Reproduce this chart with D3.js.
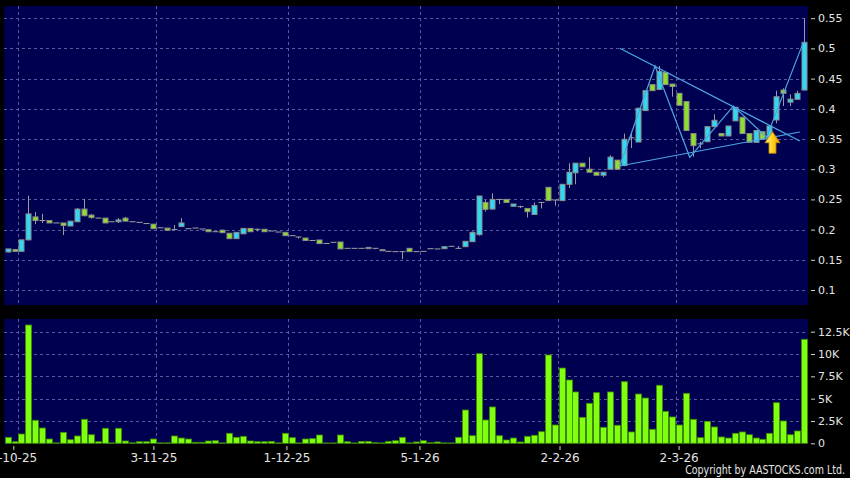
<!DOCTYPE html>
<html><head><meta charset="utf-8">
<script src="https://cdn.jsdelivr.net/npm/d3@7"></script>
<style>html,body{margin:0;padding:0;background:#000;}svg{display:block}</style>
</head><body><svg id="c" width="850" height="478"></svg>
<script>
// ---- data ----
const opens  = [0.163,0.167,0.164,0.183,0.221,0.215,0.215,0.211,0.211,0.206,0.213,0.234,0.224,0.219,0.219,0.213,0.213,0.219,0.213,0.212,0.210,0.209,0.203,0.2025,0.200,0.205,0.2015,0.2026,0.201,0.1998,0.1965,0.199,0.194,0.185,0.193,0.202,0.2005,0.2005,0.1977,0.196,0.1955,0.190,0.1878,0.186,0.182,0.1828,0.177,0.179,0.1795,0.169,0.169,0.169,0.1685,0.169,0.1667,0.164,0.1635,0.1635,0.169,0.1635,0.164,0.1684,0.168,0.1684,0.1723,0.169,0.1717,0.180,0.1916,0.245,0.234,0.250,0.250,0.2386,0.238,0.235,0.225,0.245,0.270,0.249,0.248,0.275,0.294,0.31,0.30,0.295,0.29,0.30,0.315,0.306,0.352,0.345,0.397,0.44,0.432,0.46,0.441,0.4256,0.412,0.359,0.342,0.3455,0.3705,0.359,0.355,0.380,0.386,0.359,0.3445,0.362,0.352,0.3815,0.431,0.411,0.4157,0.431];
const highs  = [0.168,0.168,0.183,0.256,0.229,0.226,0.215,0.211,0.211,0.214,0.236,0.251,0.226,0.219,0.219,0.213,0.219,0.221,0.213,0.212,0.210,0.209,0.203,0.2025,0.2076,0.219,0.2015,0.2026,0.201,0.1998,0.1965,0.200,0.194,0.1955,0.202,0.202,0.202,0.2005,0.1977,0.196,0.1955,0.190,0.1878,0.186,0.182,0.1828,0.177,0.179,0.1795,0.169,0.169,0.169,0.1705,0.169,0.1667,0.164,0.1635,0.1635,0.169,0.1635,0.164,0.1684,0.168,0.1717,0.1723,0.1728,0.1806,0.197,0.2556,0.249,0.26,0.250,0.250,0.2424,0.2395,0.235,0.245,0.245,0.270,0.249,0.275,0.31,0.31,0.31,0.32,0.295,0.295,0.323,0.315,0.359,0.36,0.401,0.43,0.44,0.471,0.46,0.441,0.4256,0.412,0.359,0.3455,0.3705,0.391,0.359,0.3715,0.4025,0.386,0.359,0.364,0.362,0.3715,0.43,0.434,0.424,0.43,0.55];
const lows   = [0.162,0.164,0.164,0.182,0.209,0.211,0.211,0.211,0.191,0.206,0.213,0.222,0.218,0.219,0.211,0.213,0.211,0.214,0.213,0.212,0.210,0.2015,0.203,0.199,0.200,0.205,0.2015,0.2026,0.201,0.1965,0.1965,0.194,0.185,0.185,0.193,0.1965,0.197,0.1965,0.1977,0.196,0.190,0.190,0.185,0.182,0.182,0.1768,0.177,0.179,0.168,0.169,0.169,0.169,0.1685,0.1675,0.165,0.164,0.1635,0.151,0.1635,0.1635,0.164,0.1684,0.168,0.1684,0.1723,0.169,0.1717,0.180,0.19,0.2297,0.233,0.242,0.245,0.2386,0.2357,0.22,0.225,0.235,0.248,0.2397,0.248,0.269,0.275,0.304,0.295,0.29,0.287,0.30,0.30,0.305,0.335,0.345,0.397,0.43,0.432,0.44,0.42,0.4058,0.364,0.3207,0.3346,0.3455,0.3705,0.355,0.355,0.380,0.359,0.3445,0.3445,0.3495,0.348,0.376,0.4046,0.4046,0.4157,0.431];
const closes = [0.168,0.164,0.183,0.226,0.215,0.215,0.211,0.211,0.207,0.214,0.234,0.223,0.220,0.219,0.211,0.213,0.216,0.214,0.213,0.212,0.210,0.2015,0.203,0.199,0.200,0.211,0.2015,0.2026,0.201,0.1965,0.1965,0.195,0.185,0.1955,0.202,0.1965,0.2005,0.1965,0.1977,0.196,0.190,0.190,0.1878,0.182,0.182,0.1768,0.177,0.179,0.168,0.169,0.169,0.169,0.1705,0.169,0.165,0.164,0.1635,0.1635,0.1635,0.1635,0.164,0.1684,0.168,0.1717,0.1723,0.169,0.1806,0.1955,0.2556,0.2336,0.250,0.250,0.245,0.2424,0.238,0.2297,0.240,0.245,0.248,0.249,0.275,0.295,0.31,0.304,0.295,0.29,0.295,0.32,0.30,0.3495,0.352,0.401,0.43,0.43,0.462,0.44,0.437,0.4058,0.364,0.339,0.342,0.3705,0.381,0.355,0.3715,0.4025,0.359,0.3445,0.364,0.3495,0.3715,0.42,0.4257,0.416,0.4256,0.51];
// volume in thousands of shares
const volumes = [0.67,0.18,1.04,13.25,2.58,1.71,0.48,0.05,1.23,0.40,0.82,2.69,0.96,0.18,1.68,0.05,1.68,0.26,0.06,0.18,0.18,0.48,0.05,0.05,0.82,0.59,0.48,0.11,0.11,0.26,0.29,0.05,1.12,0.67,0.78,0.26,0.18,0.18,0.22,0.05,1.12,0.63,0.05,0.48,0.52,0.93,0.04,0.04,0.93,0.18,0.04,0.22,0.22,0.07,0.04,0.22,0.29,0.67,0.05,0.15,0.29,0.07,0.15,0.05,0.04,0.67,3.73,0.85,10.04,2.61,4.07,0.85,0.37,0.59,0.15,0.78,0.90,1.30,9.89,2.05,8.43,7.09,5.75,2.91,4.48,5.67,1.79,5.75,2.02,6.90,1.27,5.52,5.07,1.57,6.50,3.58,2.95,2.05,5.60,2.69,0.63,2.46,1.83,0.71,0.59,1.12,1.27,0.96,0.59,0.45,1.12,4.55,2.50,0.96,1.38,11.65];
const monthStartIdx = [2,22,41,60,80,97];
const monthLabels = ["2-10-25","3-11-25","1-12-25","5-1-26","2-2-26","2-3-26"];
const priceTicks = [0.1,0.15,0.2,0.25,0.3,0.35,0.4,0.45,0.5,0.55];
const priceTickLabels = ["0.1","0.15","0.2","0.25","0.3","0.35","0.4","0.45","0.5","0.55"];
const volTicks = [0,2.5,5,7.5,10,12.5];
const volTickLabels = ["0","2.5K","5K","7.5K","10K","12.5K"];
// drawn annotations (index, price)
const upperTrend = [[88.4,0.5002],[114.4,0.3467]];
const lowerTrend = [[88.4,0.3053],[114.4,0.3616]];
const zigzag = [[88.4,0.3053],[93.5,0.4709],[98.5,0.3197],[104.8,0.4046],[109.6,0.3528],[114.9,0.510]];
const arrowAt = [110.45,0.362];

// ---- layout ----
const svg = d3.select("#c");
const W = 850, H = 478;
const main = {x0:4, x1:808, y0:6, y1:305};
const volP = {x0:4, x1:808, y0:319, y1:444};
const N = closes.length;
const x = d3.scaleLinear().domain([0, N-1]).range([7.6, 804]);
// date-label axis of the source runs on a marginally wider step than the candles
const xLab = d3.scaleLinear().domain([1.5, 96.5]).range([13.3, 678.6]);
const y = d3.scaleLinear().domain([0.1, 0.55]).range([290, 18.2]);
const yv = d3.scaleLinear().domain([0, 12.5]).range([443.3, 331.7]);

svg.append("rect").attr("width",W).attr("height",H).attr("fill","#000");
svg.append("rect").attr("x",main.x0).attr("y",main.y0).attr("width",main.x1-main.x0).attr("height",main.y1-main.y0).attr("fill","#000050");
svg.append("rect").attr("x",volP.x0).attr("y",volP.y0).attr("width",volP.x1-volP.x0).attr("height",volP.y1-volP.y0).attr("fill","#000050");

const gridCol = "#5a5a9a";
const grid = svg.append("g").attr("stroke",gridCol).attr("stroke-width",1).attr("stroke-dasharray","3,3").attr("shape-rendering","crispEdges");
grid.selectAll(".hp").data(priceTicks).join("line")
  .attr("x1",main.x0).attr("x2",main.x1).attr("y1",d=>Math.round(y(d))+0.5).attr("y2",d=>Math.round(y(d))+0.5);
grid.selectAll(".hv").data(volTicks.slice(1)).join("line")
  .attr("x1",volP.x0).attr("x2",volP.x1).attr("y1",d=>Math.round(yv(d))+0.5).attr("y2",d=>Math.round(yv(d))+0.5);
grid.selectAll(".vm").data(monthStartIdx).join("line")
  .attr("x1",d=>Math.round(x(d-0.5))+0.5).attr("x2",d=>Math.round(x(d-0.5))+0.5).attr("y1",main.y0).attr("y2",main.y1);
grid.selectAll(".vv").data(monthStartIdx).join("line")
  .attr("x1",d=>Math.round(x(d-0.5))+0.5).attr("x2",d=>Math.round(x(d-0.5))+0.5).attr("y1",volP.y0).attr("y2",volP.y1);

// ---- candles ----
const upCol = "#30d8f2", dnCol = "#8ede2c", edge = "#8c8c8c";
const idx = d3.range(N);
const cg = svg.append("g");
cg.selectAll(".wick").data(idx).join("line")
  .attr("x1",i=>Math.round(x(i))+0.5).attr("x2",i=>Math.round(x(i))+0.5)
  .attr("y1",i=>y(highs[i])).attr("y2",i=>y(lows[i]))
  .attr("stroke","#9a9a9a").attr("stroke-width",1);
const bw = 5;
cg.selectAll(".body").data(idx).join("rect")
  .attr("x",i=>Math.round(x(i))-2.5+0.5)
  .attr("width",bw)
  .attr("y",i=>Math.min(y(opens[i]),y(closes[i])))
  .attr("height",i=>Math.max(0.01,Math.abs(y(opens[i])-y(closes[i]))))
  .attr("fill",i=>closes[i]>opens[i]?upCol:(closes[i]<opens[i]?dnCol:"#9a9a9a"))
  .attr("stroke",i=>closes[i]===opens[i]?"#a0a0a0":edge)
  .attr("stroke-width",1);

// ---- annotations ----
const line = d3.line().x(d=>x(d[0])).y(d=>y(d[1]));
const ann = svg.append("g").attr("fill","none").attr("stroke","#4aa6e6").attr("stroke-width",1.2);
ann.append("path").attr("d",line(upperTrend));
ann.append("path").attr("d",line(lowerTrend));
ann.append("path").attr("d",line(zigzag));

const defs = svg.append("defs");
const gr = defs.append("linearGradient").attr("id","ag").attr("x1","0").attr("x2","1").attr("y1","0").attr("y2","0");
gr.append("stop").attr("offset","0").attr("stop-color","#fff08a");
gr.append("stop").attr("offset","0.5").attr("stop-color","#ffd21e");
gr.append("stop").attr("offset","1").attr("stop-color","#eb9a00");
const ax = x(arrowAt[0]), ay = y(arrowAt[1]);
const arrowPts = [[0,0],[7.5,11],[3.5,11],[3.5,21.5],[-3.5,21.5],[-3.5,11],[-7.5,11]];
svg.append("path")
  .attr("d","M"+arrowPts.map(p=>[ax+p[0],ay+p[1]].join(",")).join("L")+"Z")
  .attr("fill","url(#ag)").attr("stroke","#c98a00").attr("stroke-width",0.8);

// ---- volume ----
svg.append("g").selectAll("rect").data(idx).join("rect")
  .attr("x",i=>Math.round(x(i))-2.5)
  .attr("width",6)
  .attr("y",i=>yv(volumes[i]))
  .attr("height",i=>yv(0)-yv(volumes[i]))
  .attr("fill","#80ff10").attr("stroke","#3f8a00").attr("stroke-width",0.8);

// ---- axes ----
const txt = "#e4e4e4";
const pa = svg.append("g").attr("transform","translate(811,0)")
  .call(d3.axisRight(y).tickValues(priceTicks).tickSize(4).tickPadding(3).tickFormat((d,i)=>priceTickLabels[i]));
const va = svg.append("g").attr("transform","translate(811,0)")
  .call(d3.axisRight(yv).tickValues(volTicks).tickSize(4).tickPadding(3).tickFormat((d,i)=>volTickLabels[i]));
[pa,va].forEach(g=>{
  g.select(".domain").remove();
  g.selectAll(".tick line").attr("stroke","#cfcfcf");
  g.selectAll(".tick text").attr("fill",txt).attr("font-family","DejaVu Sans").attr("font-size","11px");
});
const xa = svg.append("g").attr("transform","translate(0,446)")
  .call(d3.axisBottom(xLab).tickValues(monthStartIdx.map(d=>d-0.5)).tickSize(4).tickPadding(3).tickFormat((d,i)=>monthLabels[i]));
xa.select(".domain").remove();
xa.selectAll(".tick line").attr("stroke","#cfcfcf");
xa.selectAll(".tick text").attr("fill",txt).attr("font-family","DejaVu Sans").attr("font-size","12px");

// copyright: condensed horizontally to the source's 160px width
const cpG = svg.append("g");
const cp = cpG.append("text").attr("x",0).attr("y",0).attr("text-anchor","end")
  .attr("fill",txt).attr("font-family","DejaVu Sans").attr("font-size","12.5px")
  .text("Copyright by AASTOCKS.com Ltd.");
const cw = cp.node().getComputedTextLength() || 190;
cpG.attr("transform","translate(845,474) scale("+(160/cw)+",1)");
</script></body></html>
